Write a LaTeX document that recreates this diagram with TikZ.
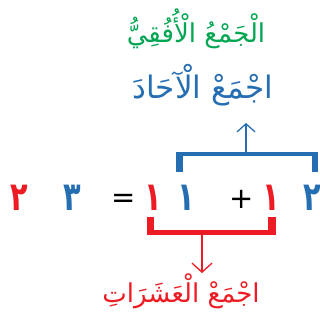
\documentclass[tikz,border=0pt]{standalone}
\usepackage{fontspec}
\usepackage{graphicx}
\usepackage{tikz}
\usetikzlibrary{arrows.meta}
\TeXXeTstate=1
\newfontfamily\arabicfont[Script=Arabic]{DejaVu Sans}
\definecolor{numred}{RGB}{237,28,36}
\definecolor{numblue}{RGB}{38,110,178}
\definecolor{titlegreen}{RGB}{0,166,81}
\newcommand{\artext}[1]{\beginR #1\endR}

\begin{document}
\begin{tikzpicture}[x=1pt, y=-1pt,
    phrase/.style={anchor=base, inner sep=0pt, font=\arabicfont\fontsize{26}{26}\selectfont},
    digit/.style={anchor=base, inner sep=0pt, font=\arabicfont\bfseries\fontsize{40}{40}\selectfont},
    sign/.style={anchor=base, inner sep=0pt, font=\arabicfont\fontsize{29}{29}\selectfont}]
    \useasboundingbox (0,0) rectangle (320,329);

    % headings
    \node[phrase, text=titlegreen] (title) at (196,42) {\artext{الْجَمْعُ الْأُفُقِيُّ}};
    \node[phrase, text=numblue, font=\arabicfont\fontsize{31}{31}\selectfont] (ones) at (203,98) {\artext{اجْمَعْ الْآحَادَ}};

    % digits
    \foreach \x/\d/\c in {19/٢/numred, 72/٣/numblue, 153/١/numred, 186/١/numblue, 271/١/numred, 312/٢/numblue} {
        \node[digit, text=\c] (d\x) at (\x,210) {\scalebox{0.72}[1]{\d}};
    }
    \node[sign] (eq) at (124,207) {=};
    \node[sign] (plus) at (242,208) {+};

    % bracket over the ones
    \fill[numblue] (176,152) rectangle (318,156);
    \fill[numblue] (176,152) rectangle (183,172);
    \fill[numblue] (312,152) rectangle (318,172);
    \coordinate (onesfoot) at (246,152);
    \coordinate (onestip) at (246,123);
    \draw[numblue, line width=1.3pt, -{Straight Barb[length=8pt, width=18pt]}] (onesfoot) -- (onestip);

    % bracket under the tens
    \fill[numred] (147,230) rectangle (276,235);
    \fill[numred] (147,217) rectangle (154,235);
    \fill[numred] (268,217) rectangle (276,235);
    \coordinate (tensfoot) at (202,235);
    \coordinate (tenstip) at (202,273);
    \draw[numred, line width=1.3pt, -{Straight Barb[length=9pt, width=20pt]}] (tensfoot) -- (tenstip);

    % tens label
    \node[phrase, text=numred] (tens) at (181,302) {\artext{اجْمَعْ الْعَشَرَاتِ}};
\end{tikzpicture}
\end{document}
